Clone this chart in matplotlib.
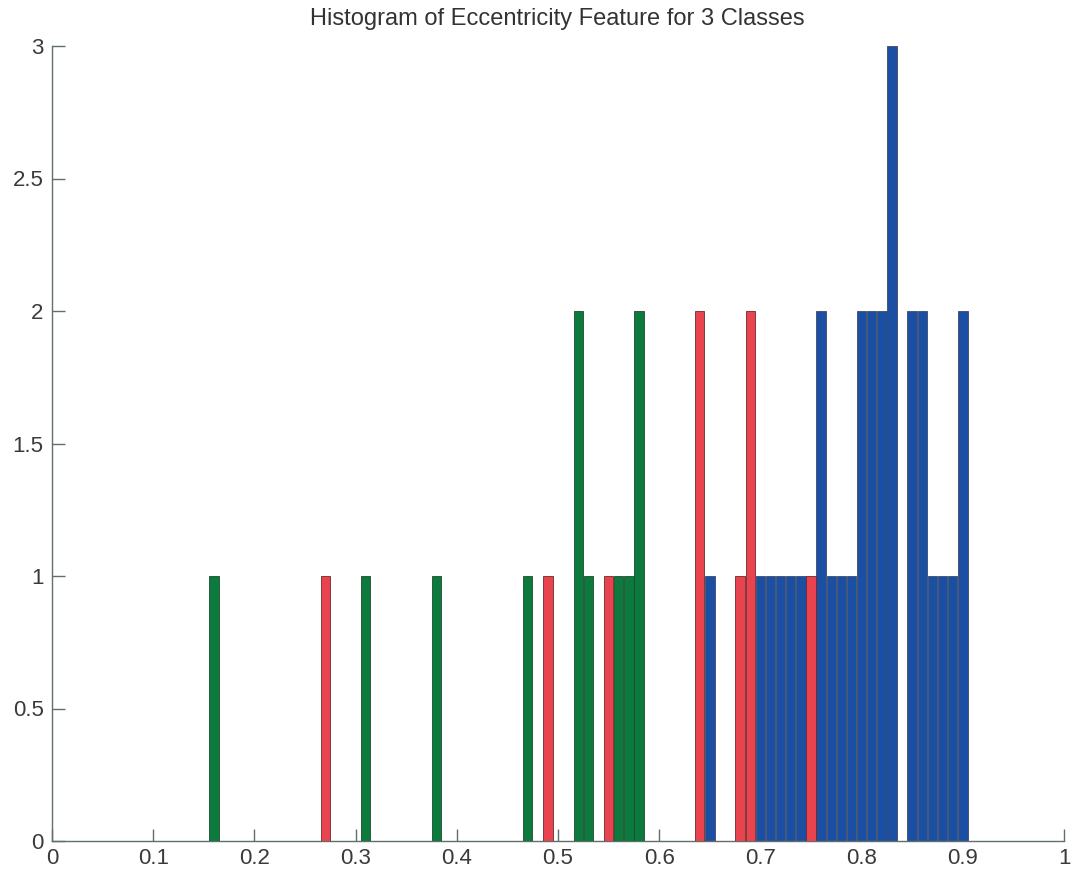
import matplotlib
matplotlib.use("Agg")
import matplotlib.pyplot as plt

# Class 1 (green)
green_x = [0.16, 0.31, 0.38, 0.47, 0.52, 0.53, 0.56, 0.57, 0.58]
green_h = [1, 1, 1, 1, 2, 1, 1, 1, 2]
# Class 2 (red)
red_x = [0.27, 0.49, 0.55, 0.64, 0.68, 0.69, 0.75]
red_h = [1, 1, 1, 2, 1, 2, 1]
# Class 3 (blue)
blue_x = [0.65, 0.70, 0.71, 0.72, 0.73, 0.74, 0.76, 0.77, 0.78, 0.79,
          0.80, 0.81, 0.82, 0.83, 0.85, 0.86, 0.87, 0.88, 0.89, 0.90]
blue_h = [1, 1, 1, 1, 1, 1, 2, 1, 1, 1,
          2, 2, 2, 3, 2, 2, 1, 1, 1, 2]

x_ticks = [0, 0.1, 0.2, 0.3, 0.4, 0.5, 0.6, 0.7, 0.8, 0.9, 1]
x_labels = ["0", "0.1", "0.2", "0.3", "0.4", "0.5", "0.6", "0.7", "0.8", "0.9", "1"]
y_ticks = [0, 0.5, 1, 1.5, 2, 2.5, 3]
y_labels = ["0", "0.5", "1", "1.5", "2", "2.5", "3"]

title = "Histogram of Eccentricity Feature for 3 Classes"

plt.rcParams['font.family'] = ['Liberation Sans', 'DejaVu Sans']

fig = plt.figure(figsize=(10.73, 8.75), dpi=100)
ax = fig.add_axes([52 / 1073, 34 / 875, (1064 - 52) / 1073, (841 - 46) / 875])

w = 0.0093
ax.bar(blue_x, blue_h, width=w, color="#1b4fa3", edgecolor="#3a4a66", linewidth=0.6, zorder=2)
ax.bar(green_x, green_h, width=w, color="#0c7a3c", edgecolor="#1d4a2e", linewidth=0.6, zorder=3)
ax.bar(red_x, red_h, width=w, color="#e8434e", edgecolor="#6a2a2a", linewidth=0.6, zorder=3)

ax.set_xlim(0, 1)
ax.set_ylim(0, 3)
ax.set_xticks(x_ticks)
ax.set_xticklabels(x_labels)
ax.set_yticks(y_ticks)
ax.set_yticklabels(y_labels)

axis_col = "#5f6f6a"
for s in ["top", "right"]:
    ax.spines[s].set_visible(False)
for s in ["left", "bottom"]:
    ax.spines[s].set_color(axis_col)
    ax.spines[s].set_linewidth(1.0)
ax.tick_params(direction="in", length=9, width=1, color=axis_col,
               labelsize=16, labelcolor="#3a3a3a", pad=5)
ax.tick_params(axis="y", pad=6)

fig.text(557 / 1073, 1 - 19 / 875, title, ha="center", va="center", fontsize=17, color="#333333")

fig.savefig("out.png", dpi=100)
